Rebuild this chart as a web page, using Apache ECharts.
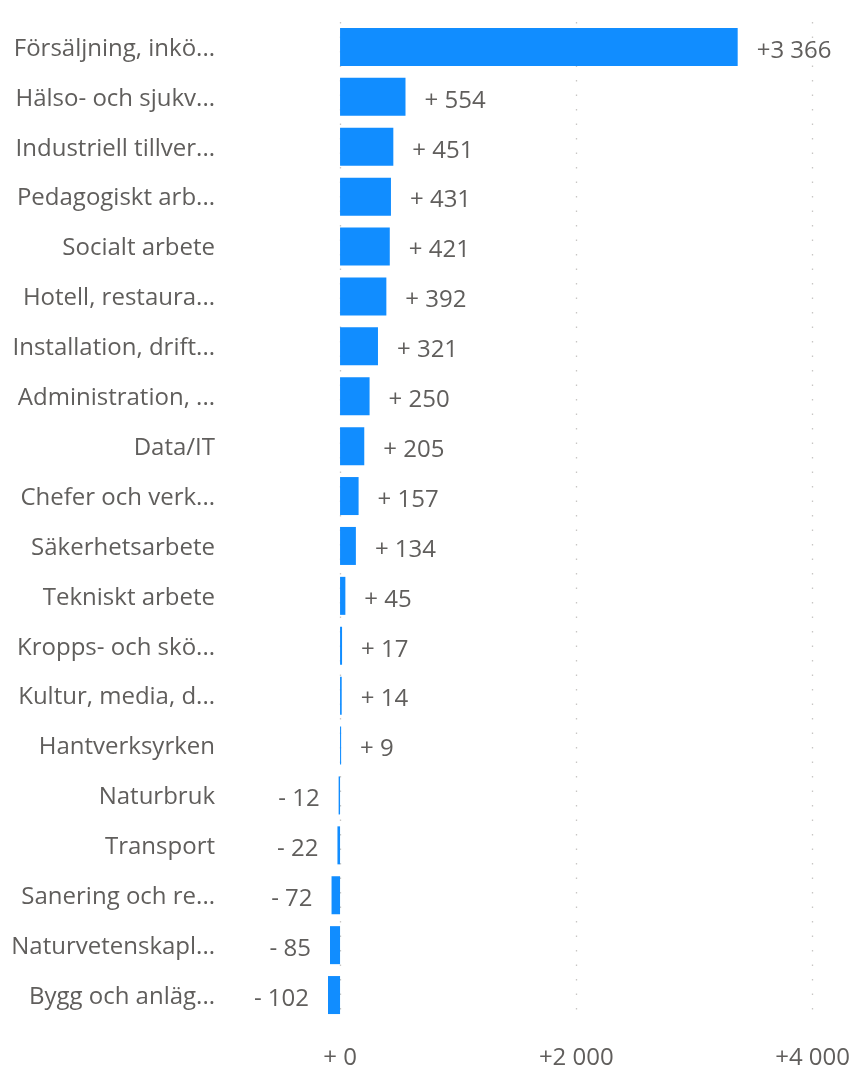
<!DOCTYPE html>
<html>
<head>
<meta charset="utf-8">
<script src="https://cdn.jsdelivr.net/npm/echarts@6/dist/echarts.min.js"></script>
<style>html,body{margin:0;padding:0;background:#fff}#c{width:853px;height:1070px}</style>
</head>
<body>
<div id="c"></div>
<script>
var categories = ["Försäljning, inkö...","Hälso- och sjukv...","Industriell tillver...","Pedagogiskt arb...","Socialt arbete","Hotell, restaura...","Installation, drift...","Administration, ...","Data/IT","Chefer och verk...","Säkerhetsarbete","Tekniskt arbete","Kropps- och skö...","Kultur, media, d...","Hantverksyrken","Naturbruk","Transport","Sanering och re...","Naturvetenskapl...","Bygg och anläg..."];
var values = [3366,554,451,431,421,392,321,250,205,157,134,45,17,14,9,-12,-22,-72,-85,-102];
var xTicks = [0,2000,4000];

function fmt(v){
  var a = Math.abs(v);
  var s = a >= 1000 ? String(a).replace(/\B(?=(\d{3})+(?!\d))/g,' ') : ' ' + a;
  return (v < 0 ? '-' : '+') + s;
}
var FONT = '"Open Sans", "Noto Sans", sans-serif';
var TXT = '#605E5C';
var FS = 24;
var data = values.map(function(v){
  return {value: v, label: {position: v < 0 ? 'left' : 'right'}};
});
var chart = echarts.init(document.getElementById('c'));
chart.setOption({
  animation: false,
  grid: {left: 328, right: 40, top: 22, bottom: 49, containLabel: false},
  xAxis: {
    type: 'value', min: -102, max: 4000,
    axisLine: {show: false},
    axisTick: {show: false, customValues: xTicks},
    splitLine: {show: true, lineStyle: {color: '#C8C6C4', width: 1.3, type: [1.5, 13]}},
    axisLabel: {customValues: xTicks, formatter: function(v){return fmt(v);}, color: TXT, fontFamily: FONT, fontSize: FS, margin: 26}
  },
  yAxis: {
    type: 'category', data: categories, inverse: true,
    axisLine: {show: false}, axisTick: {show: false},
    axisLabel: {color: TXT, fontFamily: FONT, fontSize: FS, margin: 113, align: 'right', verticalAlign: 'top', lineHeight: 4}
  },
  series: [{
    type: 'bar', data: data, barWidth: 38,
    itemStyle: {color: '#118DFF'},
    label: {show: true, distance: 19, color: TXT, fontFamily: FONT, fontSize: FS, offset: [0, 4],
      formatter: function(p){return fmt(p.value);}}
  }]
});
</script>
</body>
</html>
